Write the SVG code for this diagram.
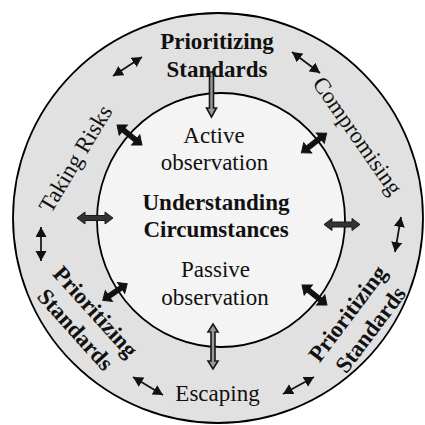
<svg xmlns="http://www.w3.org/2000/svg" width="425" height="425" viewBox="0 0 425 425">
  <style>
    .ring { stroke: #000; stroke-width: 1.8; }
    .t { font-family: "Liberation Serif", "Times New Roman", serif; font-size: 23px; fill: #111; text-anchor: middle; }
    .b { font-weight: bold; }
    .thin { stroke: #111; stroke-width: 1.7; fill: none; marker-start: url(#head); marker-end: url(#head); }
    .thick { fill: #111; stroke: #111; stroke-width: 1; }
    .block { fill: #333; stroke: #1a1a1a; stroke-width: 1; }
    .hollow { fill: #999; stroke: #1a1a1a; stroke-width: 1.6; }
  </style>
  <defs>
    <marker id="head" markerUnits="userSpaceOnUse" markerWidth="12" markerHeight="12" refX="10" refY="5.5" orient="auto-start-reverse">
      <path d="M0,0 L10,5.5 L0,11 Z" fill="#111"/>
    </marker>
    <!-- double-headed thick arrow, 32 long, centred on the origin -->
    <path id="dbl" d="M-16,0 L-8,-6.5 L-8,-2.3 L8,-2.3 L8,-6.5 L16,0 L8,6.5 L8,2.3 L-8,2.3 L-8,6.5 Z"/>
  </defs>

  <rect width="425" height="425" fill="#fff"/>

  <g id="outer-ring">
    <circle class="ring" cx="218" cy="218" r="205" fill="#e1e1e1"/>
  </g>
  <g id="inner-circle">
    <ellipse class="ring" cx="221" cy="220" rx="124" ry="127" fill="#f4f4f4"/>
  </g>

  <g id="connectors">
    <!-- arrows linking the ring labels -->
    <line class="thin" x1="113" y1="76" x2="142" y2="57"/>
    <line class="thin" x1="292" y1="52" x2="320" y2="73"/>
    <line class="thin" x1="41" y1="227" x2="41" y2="261"/>
    <line class="thin" x1="401" y1="217" x2="395" y2="252"/>
    <line class="thin" x1="133" y1="377" x2="163" y2="395"/>
    <line class="thin" x1="283" y1="394" x2="314" y2="377"/>

    <!-- arrows crossing the inner circle -->
    <use href="#dbl" class="thick" transform="translate(129.5,135) rotate(39)"/>
    <use href="#dbl" class="thick" transform="translate(314,143) rotate(-38)"/>
    <use href="#dbl" class="thick" transform="translate(115,292) rotate(-34) scale(0.92,1)"/>
    <use href="#dbl" class="thick" transform="translate(314.5,295) rotate(39)"/>
    <path class="block" d="M77,218 L85,212 L85,215.5 L105,215.5 L105,212 L113,218 L105,224 L105,220.5 L85,220.5 L85,224 Z"/>
    <path class="block" d="M324,224.5 L332,218.5 L332,222 L352,222 L352,218.5 L360,224.5 L352,230.5 L352,227 L332,227 L332,230.5 Z"/>
    <path class="hollow" d="M209.5,72 L213.5,72 L213.5,108 L216.5,108 L211.5,117 L206.5,108 L209.5,108 Z"/>
    <path class="hollow" d="M213,324 L218,332 L215,332 L215,361 L218,361 L213,369 L208,361 L211,361 L211,332 L208,332 Z"/>
  </g>

  <g id="top-standards">
    <text class="t b" x="217" y="49">Prioritizing</text>
    <text class="t b" x="217" y="77">Standards</text>
  </g>
  <g id="taking-risks">
    <text class="t" transform="translate(76,159) rotate(-59)" y="7">Taking Risks</text>
  </g>
  <g id="compromising">
    <text class="t" transform="translate(357,136) rotate(55)" y="7">Compromising</text>
  </g>
  <g id="left-standards">
    <text class="t b" transform="translate(95,312) rotate(48)" y="7">Prioritizing</text>
    <text class="t b" transform="translate(75,330) rotate(48)" y="7">Standards</text>
  </g>
  <g id="right-standards">
    <text class="t b" transform="translate(348,314) rotate(-53)" y="7">Prioritizing</text>
    <text class="t b" transform="translate(371,330) rotate(-53)" y="7">Standards</text>
  </g>
  <g id="escaping">
    <text class="t" x="217.5" y="401">Escaping</text>
  </g>

  <g id="understanding">
    <text class="t" x="214" y="143">Active</text>
    <text class="t" x="214.5" y="170">observation</text>
    <text class="t b" x="216" y="210">Understanding</text>
    <text class="t b" x="216" y="237">Circumstances</text>
    <text class="t" x="215.5" y="277">Passive</text>
    <text class="t" x="215" y="305">observation</text>
  </g>
</svg>
